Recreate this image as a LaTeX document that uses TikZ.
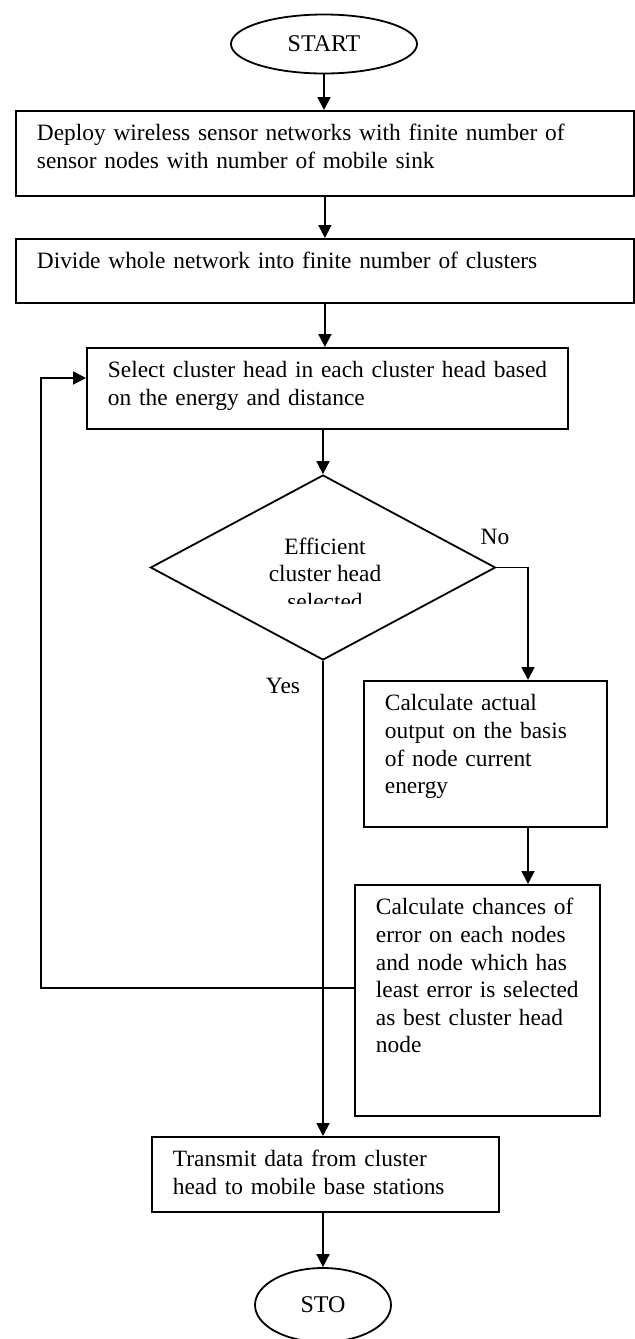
\documentclass[tikz,border=0pt]{standalone}
\usepackage{fontspec}
\setmainfont{Liberation Serif}
\usetikzlibrary{shapes.geometric,arrows.meta}

\begin{document}
\begin{tikzpicture}[x=0.5pt, y=-0.5pt,
    font=\fontsize{11.7}{13.8}\selectfont,
    line width=0.9pt,
    stepbox/.style={draw, rectangle, anchor=north west, align=left,
        inner xsep=10.5pt, inner ysep=4pt, text height=11pt},
    terminal/.style={draw, ellipse, inner sep=0pt, font=\fontsize{12}{13.8}\selectfont},
    decision/.style={draw, diamond, inner sep=0pt, aspect=1.865,
        minimum width=172.5pt, minimum height=92.5pt},
    arr/.style={-{Triangle[length=6.5pt,width=6.5pt]}}]
\useasboundingbox (0,0) rectangle (634,1339);

% boxes from top to bottom
\node[terminal, minimum width=93pt, minimum height=29.5pt] (start) at (324,44) {START};
\node[stepbox, text width=288pt, text depth=23.5pt] (deploy) at (15,110)
    {Deploy wireless sensor networks with finite number of\\sensor nodes with number of mobile sink};
\node[stepbox, text width=288pt, text depth=13pt] (divide) at (15,238)
    {Divide whole network into finite number of clusters};
\node[stepbox, text width=219.5pt, text depth=21.5pt] (select) at (86,347)
    {\mbox{Select cluster head in each cluster head based}\\on the energy and distance};
\node[decision] (check) at (323,567.5) {};
\begin{scope}
    \clip (152,475) rectangle (497,603);
    \node[align=center, anchor=north, inner sep=0pt] (checktxt) at (325,537)
        {Efficient\\cluster head\\selected};
\end{scope}
\node (no) at (495,537) {No};
\node (yes) at (283,686) {Yes};
\node[stepbox, text width=100.5pt, text depth=54pt] (calc) at (363,680)
    {Calculate actual\\output on the basis\\of node current\\energy};
\node[stepbox, text width=101.5pt, text depth=96.5pt] (err) at (354,884)
    {Calculate chances of\\error on each nodes\\and node which has\\least error is selected\\as best cluster head\\node};
\node[stepbox, text width=152.5pt, text depth=18.5pt] (send) at (151,1136)
    {Transmit data from cluster\\head to mobile base stations};
\node[terminal, minimum width=68pt, minimum height=37pt] (stop) at (323,1305) {STO};

% connectors
\draw[arr] (start.south) -- (start.south |- deploy.north);
\draw[arr] (deploy.south) -- (divide.north);
\draw[arr] (divide.south) -- (divide.south |- select.north);
\draw[arr] (check.north |- select.south) -- (check.north);
\coordinate (nobend) at (528,567.5);
\draw[arr] (check.east) -- (nobend) -- (nobend |- calc.north);
\draw[arr] (nobend |- calc.south) -- (nobend |- err.north);
\draw[arr] (check.south) -- (check.south |- send.north);
\coordinate (backlow) at (41,988);
\coordinate (backhigh) at (41,378);
\draw[arr] (backlow -| err.west) -- (backlow) -- (backhigh) -- (backhigh -| select.west);
\draw[arr] (stop.north |- send.south) -- (stop.north);
\end{tikzpicture}
\end{document}
